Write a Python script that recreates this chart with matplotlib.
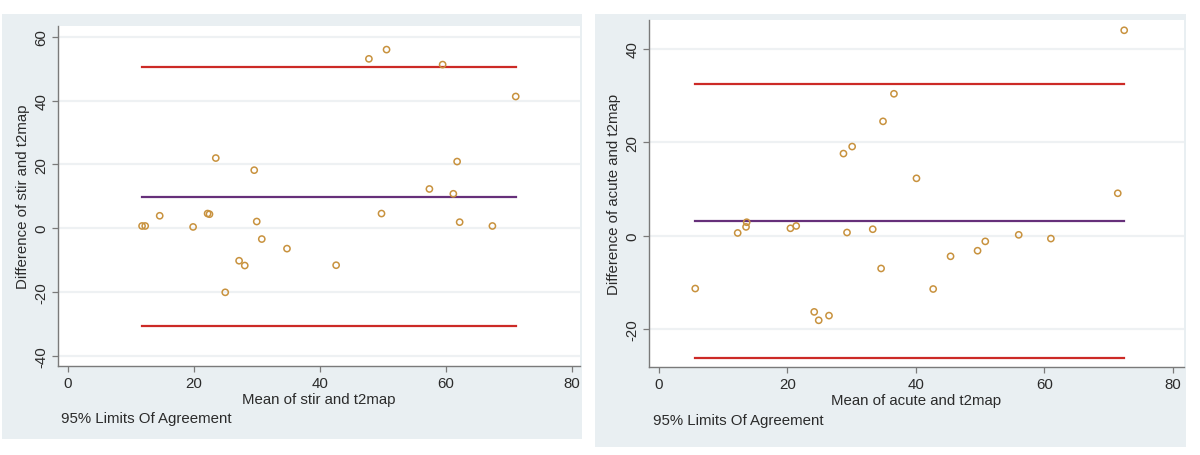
import matplotlib
matplotlib.use("Agg")
import matplotlib.pyplot as plt

plt.rcParams['font.family'] = ['Liberation Sans', 'DejaVu Sans']

# ---- data: left panel (stir vs t2map) ----
stir_mean = [47.8, 50.6, 59.5, 71.1, 23.5, 29.6, 61.8, 57.4, 61.2, 14.6,
             11.8, 12.3, 19.9, 22.2, 22.5, 30.0, 49.8, 62.2, 67.4, 30.8,
             34.8, 27.2, 28.1, 42.6, 25.0]
stir_diff = [53.1, 56.0, 51.3, 41.3, 22.0, 18.2, 20.9, 12.3, 10.8, 3.9,
             0.7, 0.7, 0.4, 4.6, 4.4, 2.1, 4.6, 1.9, 0.7, -3.4,
             -6.4, -10.2, -11.7, -11.6, -20.1]
stir_bias = 9.8
stir_loa = [-30.7, 50.6]

# ---- data: right panel (acute vs t2map) ----
acute_mean = [72.4, 36.6, 34.9, 30.1, 28.75, 40.1, 71.4, 13.7, 13.6, 12.3,
              20.5, 21.4, 29.3, 33.3, 56.0, 61.0, 50.8, 49.6, 45.4, 34.6,
              5.7, 42.7, 24.2, 26.5, 24.9]
acute_diff = [44.0, 30.4, 24.5, 19.1, 17.6, 12.3, 9.1, 2.9, 1.9, 0.6,
              1.6, 2.1, 0.7, 1.4, 0.2, -0.6, -1.2, -3.2, -4.4, -7.0,
              -11.3, -11.4, -16.3, -17.1, -18.1]
acute_bias = 3.1
acute_loa = [-26.2, 32.4]

x_ticks = [0, 20, 40, 60, 80]
stir_yticks = [-40, -20, 0, 20, 40, 60]
acute_yticks = [-20, 0, 20, 40]

W, H = 1200, 456
fig = plt.figure(figsize=(W / 100, H / 100), dpi=100)
fig.patch.set_facecolor('white')

BG = '#E9EFF2'
AX = '#7A7A7A'
TXT = '#2B2B2B'
MK = '#C8923E'
RED = '#CC2A26'
PUR = '#66307A'
GRID = '#EEF1F3'
FS = 10.8


def frac_box(x0, y0, x1, y1):
    return [x0 / W, 1 - y1 / H, (x1 - x0) / W, (y1 - y0) / H]


def panel(outer, inner, xlim, ylim, means, diffs, bias, loa, yticks,
          xlabel, ylabel, foot_xy, ylab_x):
    bg = fig.add_axes(frac_box(*outer), zorder=0)
    bg.set_facecolor(BG)
    bg.set_xticks([])
    bg.set_yticks([])
    for s in bg.spines.values():
        s.set_visible(False)
    ax = fig.add_axes(frac_box(*inner), zorder=1)
    ax.set_facecolor('white')
    ax.set_xlim(*xlim)
    ax.set_ylim(*ylim)
    for s in ('top', 'right'):
        ax.spines[s].set_visible(False)
    for s in ('left', 'bottom'):
        ax.spines[s].set_color(AX)
        ax.spines[s].set_linewidth(1.0)
    ax.set_xticks(x_ticks)
    ax.set_yticks(yticks)
    ax.set_xticklabels([str(v) for v in x_ticks])
    ax.set_yticklabels([str(v) for v in yticks], rotation=90, va='center')
    ax.tick_params(axis='both', direction='out', length=4, width=0.9,
                   color=AX, labelcolor=TXT, labelsize=FS, pad=3)
    ax.yaxis.grid(True, color=GRID, linewidth=1.6)
    ax.set_axisbelow(True)
    lo, hi = min(means), max(means)
    ax.plot([lo, hi], [loa[1], loa[1]], color=RED, lw=1.6, zorder=2)
    ax.plot([lo, hi], [bias, bias], color=PUR, lw=1.6, zorder=2)
    ax.plot([lo, hi], [loa[0], loa[0]], color=RED, lw=1.6, zorder=2)
    ax.scatter(means, diffs, s=20, facecolors='none', edgecolors=MK,
               linewidths=1.1, zorder=3)
    ax.set_xlabel(xlabel, fontsize=FS, color=TXT, labelpad=2)
    ax.set_ylabel(ylabel, fontsize=FS, color=TXT)
    ax.yaxis.label.set_va('center')
    ax.yaxis.set_label_coords((ylab_x - inner[0]) / (inner[2] - inner[0]), 0.5)
    fig.text(foot_xy[0] / W, 1 - foot_xy[1] / H, '95% Limits Of Agreement',
             fontsize=FS, color=TXT, ha='left', va='center', zorder=2)
    return ax


panel((2, 15, 582, 440), (58, 27, 580, 367), (-1.54, 81.3), (-43.2, 63.4),
      stir_mean, stir_diff, stir_bias, stir_loa, stir_yticks,
      'Mean of stir and t2map', 'Difference of stir and t2map',
      (61, 419), 23)

panel((595, 15, 1186, 448), (649, 21, 1184, 368), (-1.49, 81.7), (-28.1, 46.2),
      acute_mean, acute_diff, acute_bias, acute_loa, acute_yticks,
      'Mean of acute and t2map', 'Difference of acute and t2map',
      (653, 421), 614)

fig.savefig('out.png', dpi=100, facecolor='white')
